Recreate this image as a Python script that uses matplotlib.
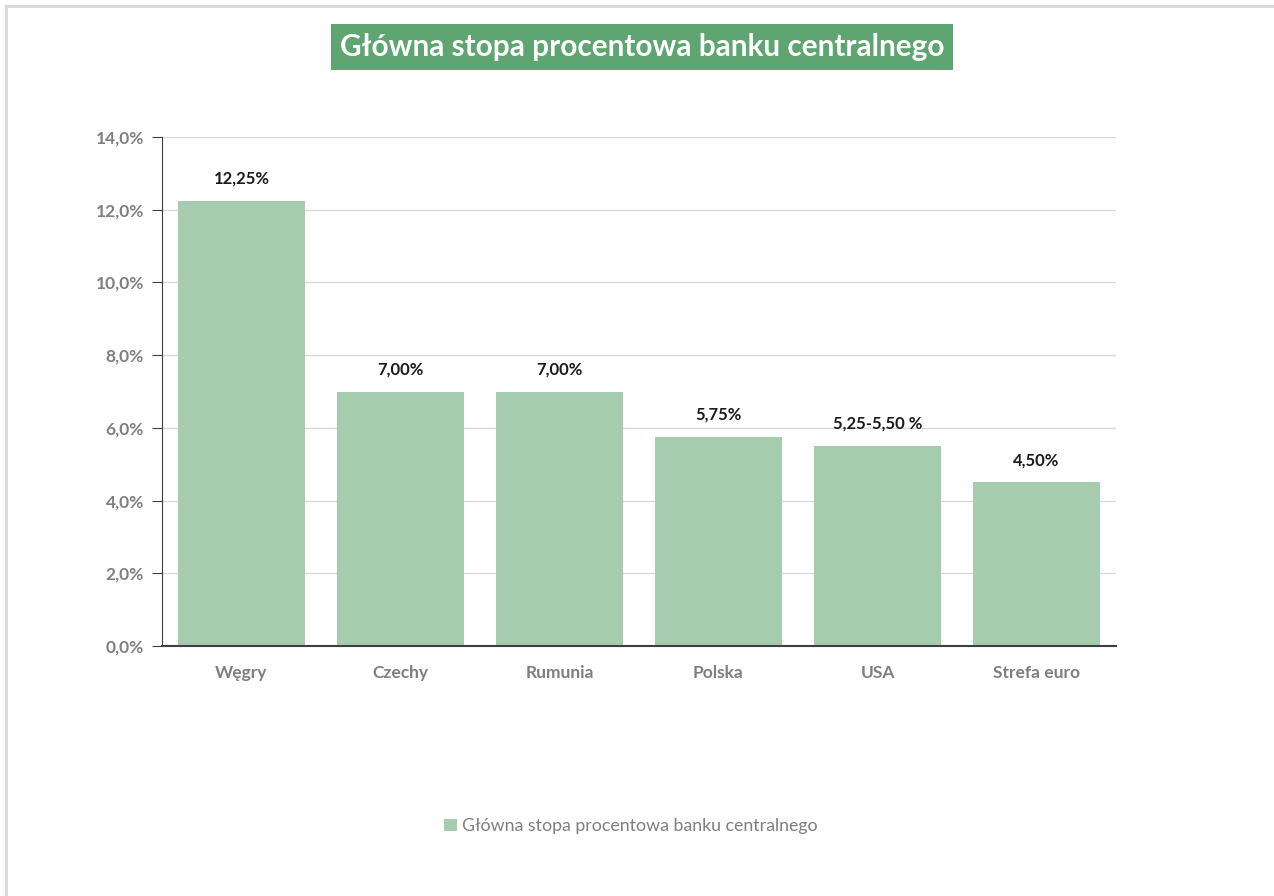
import matplotlib
matplotlib.use("Agg")
import matplotlib.pyplot as plt
from matplotlib.ticker import FuncFormatter
from matplotlib.lines import Line2D
from matplotlib.patches import Patch

plt.rcParams['font.family'] = ['Lato', 'DejaVu Sans']

categories = ["Węgry", "Czechy", "Rumunia", "Polska", "USA", "Strefa euro"]
values = [12.25, 7.00, 7.00, 5.75, 5.50, 4.50]
labels = ["12,25%", "7,00%", "7,00%", "5,75%", "5,25-5,50 %", "4,50%"]
yticks = [0, 2, 4, 6, 8, 10, 12, 14]
title = "Główna stopa procentowa banku centralnego"

bar_color = "#A6CCAF"
title_bg = "#5FA572"
gray = "#7F7F7F"

fig = plt.figure(figsize=(12.74, 8.96), dpi=100)
ax = fig.add_axes([162/1274, 1-646/896, (1116-162)/1274, (646-137)/896])

x = list(range(len(categories)))
bars = ax.bar(x, values, width=0.8, color=bar_color, zorder=2, label=title)
ax.set_xlim(-0.5, len(categories)-0.5)
ax.set_ylim(0, 14)
ax.set_yticks(yticks)
ax.yaxis.set_major_formatter(FuncFormatter(lambda v, p: f"{v:.1f}%".replace(".", ",")))
ax.set_xticks(x)
ax.set_xticklabels(categories)
ax.grid(axis='y', color="#D9D9D9", linewidth=1, zorder=0)
for s in ['top', 'right']:
    ax.spines[s].set_visible(False)
ax.spines['left'].set_color("#404040")
ax.spines['bottom'].set_color("#404040")
ax.spines['bottom'].set_linewidth(1.5)
ax.tick_params(axis='x', length=0, pad=14, labelsize=12.5, labelcolor=gray)
ax.tick_params(axis='y', length=7, color="#404040", pad=6, labelsize=12.5, labelcolor=gray)
for lbl in ax.get_xticklabels() + ax.get_yticklabels():
    lbl.set_fontweight('bold')

for xi, v, t in zip(x, values, labels):
    ax.annotate(t, (xi, v), xytext=(0, 16), textcoords='offset points',
                ha='center', va='center', fontsize=12, fontweight='bold', color="#1a1a1a")

fig.text(642/1274, 1-47/896, title, ha='center', va='center', fontsize=21.4,
         fontweight='bold', color='white',
         bbox=dict(boxstyle='square,pad=0.3', facecolor=title_bg, edgecolor='none'))

handle = Patch(facecolor=bar_color, edgecolor='none')
fig.legend([handle], [title], loc='center', bbox_to_anchor=(631/1274, 1-826/896),
           frameon=False, fontsize=12.8, labelcolor=gray, handlelength=0.7,
           handleheight=0.7, handletextpad=0.3)

# outer frame lines (top and left)
fig.add_artist(Line2D([6.5/1274, 1], [1-6.5/896, 1-6.5/896], color="#D9D9D9", lw=2, transform=fig.transFigure))
fig.add_artist(Line2D([6.5/1274, 6.5/1274], [0, 1-6.5/896], color="#D9D9D9", lw=2, transform=fig.transFigure))

fig.savefig("out.png", dpi=100)
